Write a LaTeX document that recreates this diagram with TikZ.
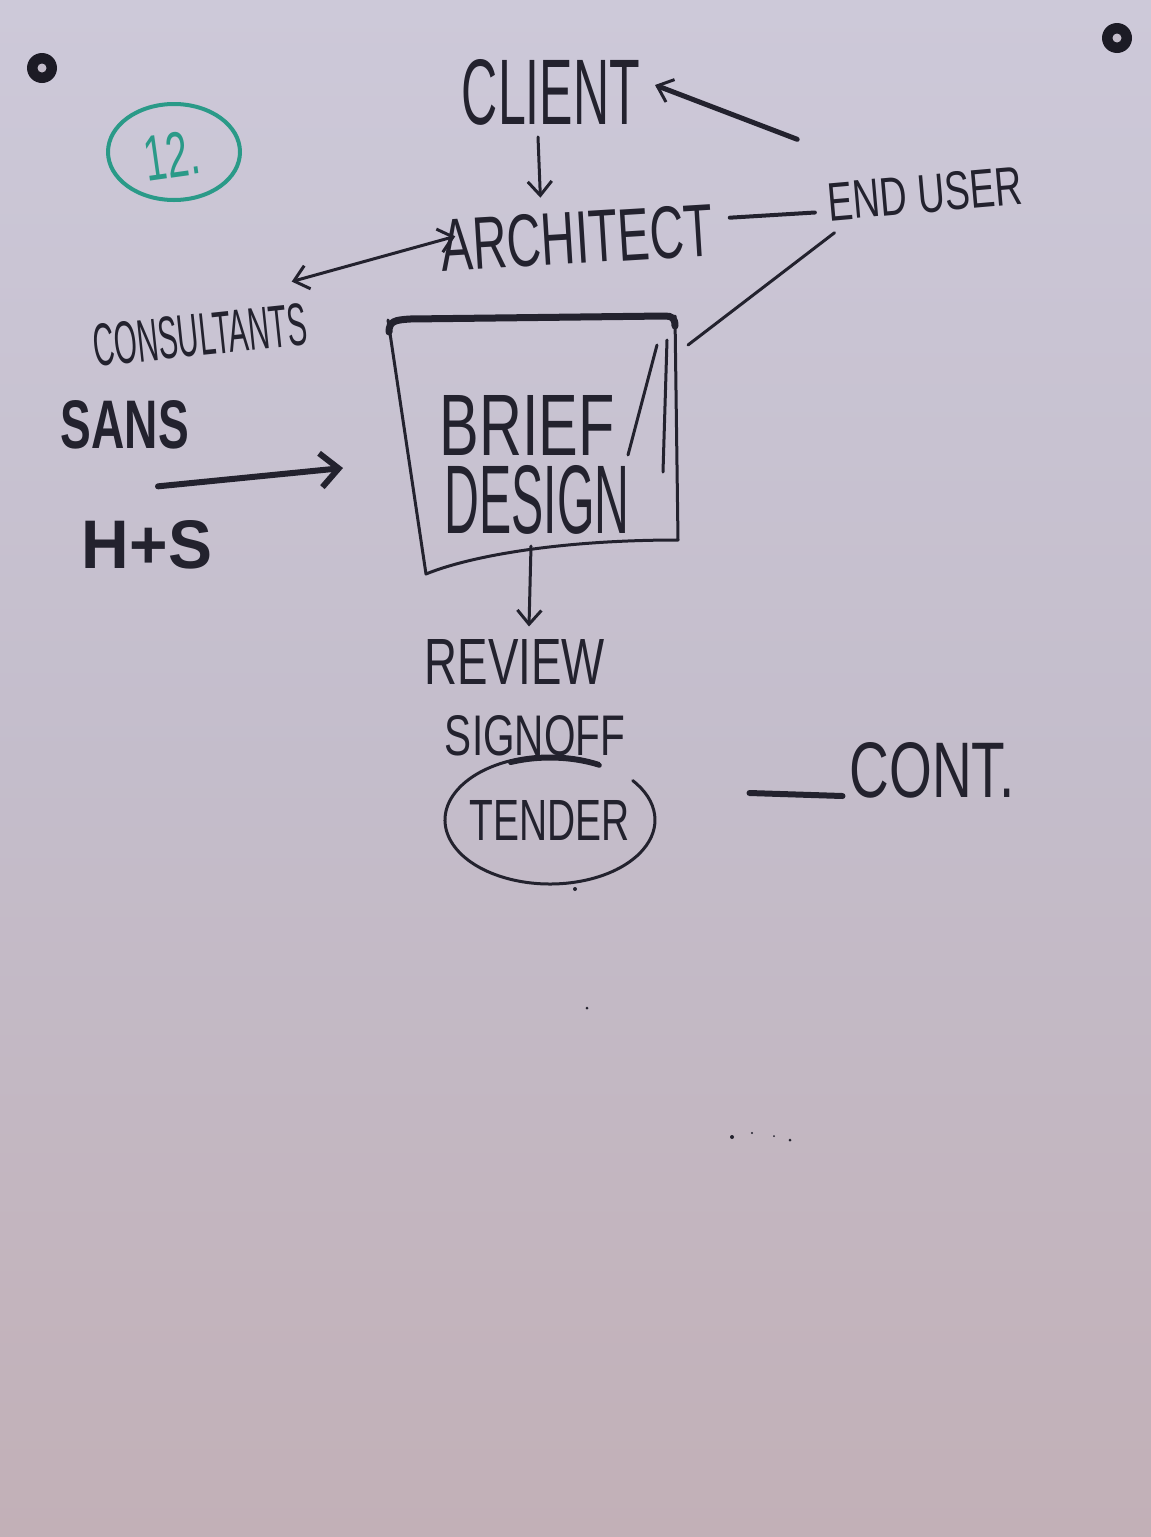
\documentclass[tikz,border=0pt]{standalone}
\usepackage{fontspec}
\setmainfont{Liberation Sans}
\usetikzlibrary{arrows.meta}
\definecolor{ink}{HTML}{23222E}
\definecolor{tealink}{HTML}{2A9A88}
\definecolor{papertop}{HTML}{CDC9D9}
\definecolor{papermid}{HTML}{C4BDCB}
\definecolor{paperbot}{HTML}{C2B0B7}
% handwritten label squeezed to a given width and cap height (in pt)
\newcommand{\hw}[3]{\resizebox{#1pt}{#2pt}{#3}}
\begin{document}
\begin{tikzpicture}[x=1pt,y=-1pt,line cap=round,line join=round,
  lbl/.style={inner sep=0pt,outer sep=0pt,text=ink},
  pen/.style={draw=ink,line width=3pt},
  marker/.style={draw=ink,line width=6pt},
  barb/.style={-{Straight Barb[length=14pt,width=24pt,line width=3pt]}},
  bigbarb/.style={-{Straight Barb[length=18pt,width=34pt,line width=6pt]}},
  pin/.style={fill=ink!80!black}]
% paper
\shade[top color=papertop,bottom color=paperbot,middle color=papermid] (0,0) rectangle (1151,1537);
\useasboundingbox (0,0) rectangle (1151,1537);
% pins
\fill[pin] (42,68) circle (15);
\fill[papermid] (42,68) circle (4.5);
\fill[pin] (1117,38) circle (15);
\fill[papermid] (1117,38) circle (4.5);
% page number
\node[lbl,text=tealink,rotate=8] (num) at (172,155) {\hw{55}{45}{12.}};
\draw[tealink,line width=4pt] (num.center) ++(2,-3) ellipse [x radius=66,y radius=48];
% labels
\node[lbl] (client) at (551,92) {\hw{178}{65}{CLIENT}};
\node[lbl,rotate=3.5] (architect) at (577,238) {\hw{272}{52}{ARCHITECT}};
\node[lbl,rotate=5] (enduser) at (925,194) {\hw{195}{38}{END USER}};
\node[lbl,rotate=6] (consultants) at (200,335) {\hw{215}{42}{CONSULTANTS}};
\node[lbl] (sans) at (125,425) {\hw{128}{48}{\bfseries SANS}};
\node[lbl] (hs) at (147,545) {\hw{130}{48}{\bfseries H+S}};
\node[lbl] (brief) at (527,425) {\hw{175}{60}{BRIEF}};
\node[lbl] (design) at (537,500) {\hw{185}{68}{DESIGN}};
\node[lbl] (review) at (515,662) {\hw{180}{45}{REVIEW}};
\node[lbl] (signoff) at (535,736) {\hw{180}{40}{SIGNOFF}};
\node[lbl] (tender) at (550,820) {\hw{160}{40}{TENDER}};
\node[lbl] (cont) at (932,770) {\hw{165}{55}{CONT.}};
% brief / design box
\coordinate (bNW) at (388,320);
\coordinate (bNE) at (675,316);
\coordinate (bSE) at (678,540);
\coordinate (bSW) at (426,574);
\coordinate (bS) at (531,546);
\draw[pen] (bNW) -- (bSW) .. controls (470,556) and (560,540) .. (bSE) -- (bNE);
\draw[draw=ink,line width=7pt] (389,332) .. controls (389,321) and (395,320) .. (410,319)
  -- (665,316) .. controls (672,316) and (675,318) .. (675,326);
\draw[pen] (657,345) -- (628,455);
\draw[pen] (667,340) -- (663,472);
% connectors
\draw[pen,barb] ([xshift=-13pt,yshift=-12pt]client.south) -- ([xshift=-35pt,yshift=14pt]architect.north);
\draw[draw=ink,line width=5pt,barb] ([xshift=-29pt,yshift=44pt]enduser.north west) -- ([xshift=15pt,yshift=7pt]client.east);
\draw[draw=ink,line width=4pt] ([xshift=17pt,yshift=12pt]architect.east) -- ([xshift=-13pt,yshift=-10pt]enduser.west);
\draw[pen] ([xshift=5pt,yshift=-11pt]enduser.south west) -- ([xshift=13pt,yshift=-29pt]bNE);
\draw[pen,{Straight Barb[length=14pt,width=24pt,line width=3pt]}-{Straight Barb[length=14pt,width=24pt,line width=3pt]}]
  ([xshift=-13pt,yshift=21pt]consultants.north east) -- ([xshift=14pt,yshift=10pt]architect.west);
\draw[marker,bigbarb] ([xshift=33pt,yshift=-37pt]sans.south) -- ([xshift=-45pt,yshift=-148pt]bNW);
\draw[pen,barb] (bS) -- ([xshift=14pt,yshift=13pt]review.north);
% ring round tender
\draw[pen] (tender.center) ++(-62:105 and 64) arc[start angle=-62,end angle=-398,x radius=105,y radius=64];
\draw[draw=ink,line width=5pt] (tender.center) ++(-62:105 and 62) arc[start angle=-62,end angle=-112,x radius=105,y radius=62];
% dash before CONT.
\draw[marker] ([xshift=-100pt,yshift=-23pt]cont.west) -- ([xshift=-7pt,yshift=-26pt]cont.west);
% specks on the sheet
\fill[ink] (575,889) circle (2);
\fill[ink] (587,1008) circle (1.5);
\fill[ink] (732,1137) circle (2);
\fill[ink] (752,1133) circle (1.2);
\fill[ink] (774,1136) circle (1);
\fill[ink] (790,1140) circle (1.5);
\end{tikzpicture}
\end{document}
